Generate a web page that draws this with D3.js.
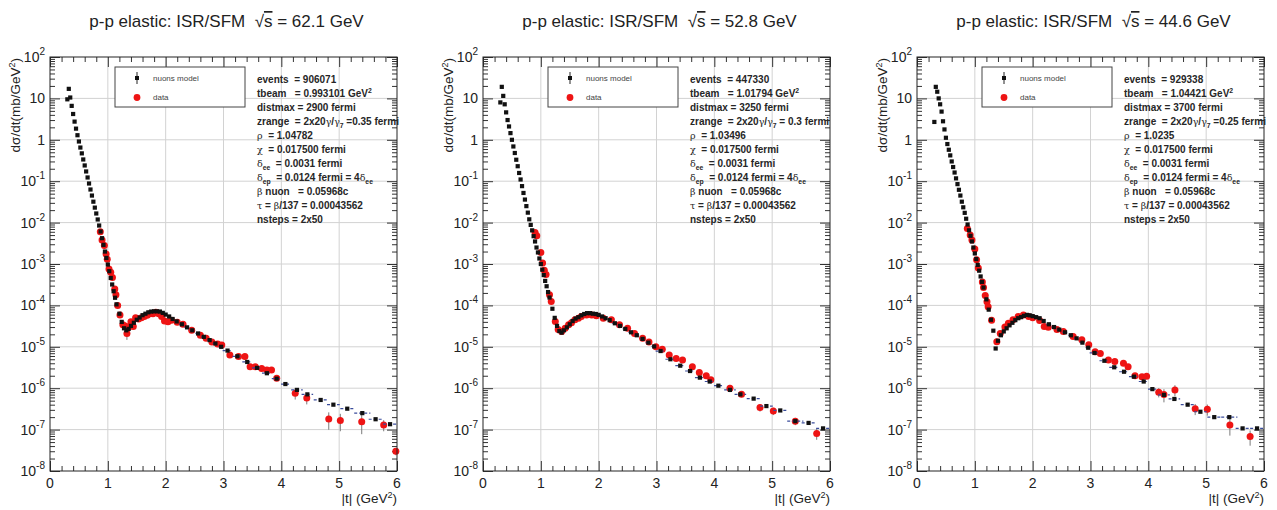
<!DOCTYPE html>
<html>
<head>
<meta charset="utf-8">
<script src="https://cdn.jsdelivr.net/npm/d3@7"></script>
<style>
  body { margin: 0; background: #fff; }
  svg { display: block; }
  text { font-family: "Liberation Sans", Arial, sans-serif; }
</style>
</head>
<body>
<svg id="chart"></svg>
<script>
// ---------- data ----------
// model bins (|t| centre, GeV^2) shared by the three energies
const tModel = [0.30,0.325,0.35,0.375,0.40,0.425,0.45,0.475,0.50,0.525,0.55,0.575,0.60,0.625,0.65,0.675,0.70,0.725,0.75,0.775,
  0.80,0.825,0.85,0.875,0.90,0.925,0.95,0.975,1.00,1.025,1.05,1.075,1.10,1.125,1.15,
  1.20,1.24,1.28,1.32,1.36,1.40,1.45,1.50,1.55,1.60,1.65,1.70,1.75,1.80,1.85,1.90,1.95,2.00,2.06,2.12,2.19,
  2.28,2.37,2.46,2.56,2.66,2.76,2.86,2.96,3.07,3.24,3.41,3.58,3.75,3.92,
  4.07,4.27,4.45,4.68,4.90,5.14,5.40,5.63,5.88];
// half bin width
const dtModel = [0.0125,0.0125,0.0125,0.0125,0.0125,0.0125,0.0125,0.0125,0.0125,0.0125,0.0125,0.0125,0.0125,0.0125,0.0125,0.0125,0.0125,0.0125,0.0125,0.0125,
  0.0125,0.0125,0.0125,0.0125,0.0125,0.0125,0.0125,0.0125,0.0125,0.0125,0.0125,0.0125,0.0125,0.0125,0.0125,
  0.02,0.02,0.02,0.02,0.02,0.02,0.02,0.02,0.02,0.02,0.02,0.02,0.02,0.02,0.02,0.02,0.02,0.02,0.02,0.02,0.02,
  0.045,0.045,0.045,0.045,0.045,0.045,0.045,0.045,0.085,0.085,0.085,0.085,0.085,0.085,
  0.075,0.1,0.1,0.12,0.11,0.12,0.14,0.12,0.12];

const model62 = [9.5,17,10.5,6.6,4.2,2.75,1.86,1.29,0.91,0.65,0.47,0.335,0.24,0.172,0.123,0.088,0.063,0.045,0.032,0.023,
  0.0166,0.0119,0.0085,0.0061,0.0042,0.0029,0.0020,0.0014,9.7e-4,6.7e-4,4.6e-4,3.2e-4,2.2e-4,1.53e-4,1.06e-4,
  6.3e-5,4.0e-5,2.8e-5,2.5e-5,2.7e-5,3.2e-5,3.8e-5,4.5e-5,5.1e-5,5.8e-5,6.3e-5,6.8e-5,7.1e-5,7.2e-5,7.2e-5,7.1e-5,6.6e-5,6.0e-5,5.4e-5,4.7e-5,4.1e-5,
  3.5e-5,2.95e-5,2.5e-5,2.1e-5,1.74e-5,1.45e-5,1.2e-5,1.0e-5,8.1e-6,5.9e-6,4.3e-6,3.1e-6,2.3e-6,1.7e-6,
  1.26e-6,9.1e-7,7.1e-7,5.2e-7,4.0e-7,3.2e-7,2.5e-7,1.78e-7,1.35e-7];
const model528 = [8,19,11.5,7.2,4.6,3.0,2.1,1.45,1.0,0.69,0.48,0.33,0.23,0.158,0.11,0.076,0.052,0.036,0.025,0.0174,
  0.012,0.0088,0.0065,0.0047,0.0035,0.0025,0.0019,0.00136,1.0e-3,7.3e-4,5.4e-4,3.9e-4,2.9e-4,2.1e-4,1.55e-4,
  8.3e-5,5.0e-5,3.2e-5,2.4e-5,2.2e-5,2.5e-5,2.95e-5,3.5e-5,4.2e-5,4.8e-5,5.2e-5,5.75e-5,6.2e-5,6.5e-5,6.5e-5,6.3e-5,6.2e-5,5.9e-5,5.4e-5,4.9e-5,4.4e-5,
  3.7e-5,3.2e-5,2.7e-5,2.24e-5,1.9e-5,1.55e-5,1.26e-5,1.02e-5,7.9e-6,5.0e-6,3.5e-6,2.6e-6,1.8e-6,1.45e-6,
  1.15e-6,9.1e-7,7.1e-7,5.6e-7,3.7e-7,2.9e-7,1.6e-7,1.45e-7,1.07e-7];
const model446 = [2.7,19,14.5,10,7.2,4.8,2.8,1.78,1.12,0.79,0.575,0.42,0.30,0.22,0.162,0.117,0.085,0.062,0.045,0.032,
  0.0234,0.0172,0.0124,0.009,0.0065,0.0048,0.0035,0.0025,0.0018,0.00132,9.5e-4,6.9e-4,5.0e-4,3.7e-4,2.7e-4,
  1.4e-4,7.9e-5,4.5e-5,2.45e-5,9.1e-6,1.4e-5,1.9e-5,2.35e-5,2.8e-5,3.3e-5,3.8e-5,4.4e-5,4.9e-5,5.2e-5,5.6e-5,5.9e-5,5.75e-5,5.5e-5,5.2e-5,4.9e-5,4.2e-5,
  3.5e-5,3.0e-5,2.6e-5,2.24e-5,1.9e-5,1.6e-5,1.26e-5,9.5e-6,7.1e-6,4.6e-6,3.2e-6,2.5e-6,1.9e-6,1.45e-6,
  9.5e-7,6.9e-7,5.5e-7,4.0e-7,2.7e-7,2.0e-7,2.0e-7,1.07e-7,1.07e-7];

// ISR data, 62.1 GeV
const t62 = [0.87,0.90,0.94,0.97,0.99,1.02,1.05,1.08,1.12,1.14,1.17,1.21,1.26,1.30,1.33,1.36,1.40,1.44,1.48,1.53,
  1.58,1.63,1.68,1.73,1.78,1.83,1.88,1.93,1.98,2.04,2.10,2.20,2.30,2.45,2.60,2.70,2.80,2.90,2.97,3.11,
  3.26,3.37,3.46,3.55,3.66,3.75,3.83,3.92,4.24,4.44,4.82,5.02,5.39,5.77,5.98];
const v62 = [6.0e-3,3.8e-3,2.8e-3,1.74e-3,1.3e-3,7.6e-4,6.3e-4,4.7e-4,2.5e-4,1.8e-4,1.0e-4,5.9e-5,3.4e-5,3.2e-5,2.1e-5,3.0e-5,4.0e-5,3.1e-5,5.0e-5,4.7e-5,
  5.0e-5,5.4e-5,5.8e-5,6.3e-5,6.3e-5,6.8e-5,6.3e-5,5.4e-5,4.2e-5,4.0e-5,4.4e-5,3.9e-5,3.5e-5,2.5e-5,1.9e-5,1.6e-5,1.3e-5,1.17e-5,1.1e-5,6.3e-6,
  5.8e-6,5.8e-6,3.3e-6,3.3e-6,3.0e-6,2.75e-6,2.75e-6,1.74e-6,7.6e-7,5.8e-7,1.8e-7,1.66e-7,1.55e-7,1.3e-7,3.0e-8];
const rel62 = [0.04,0.04,0.04,0.04,0.04,0.04,0.04,0.04,0.04,0.04,0.04,0.08,0.15,0.15,0.3,0.15,0.12,0.12,0.1,0.08,
  0.08,0.08,0.08,0.08,0.08,0.08,0.08,0.08,0.08,0.08,0.08,0.08,0.08,0.08,0.08,0.08,0.08,0.08,0.08,0.08,
  0.08,0.08,0.08,0.08,0.08,0.08,0.08,0.08,0.3,0.3,0.45,0.45,0.5,0.3,0.2];

// ISR data, 52.8 GeV
const t528 = [0.90,0.93,1.00,1.03,1.06,1.09,1.15,1.18,1.25,1.30,1.36,1.42,1.48,1.53,1.59,1.65,1.70,1.79,1.88,1.96,
  2.08,2.22,2.36,2.50,2.62,2.76,2.87,2.99,3.10,3.22,3.34,3.45,3.62,3.74,3.86,3.94,4.27,4.47,4.79,5.02,5.40,5.77];
const v528 = [5.8e-3,4.8e-3,1.9e-3,1.05e-3,7.1e-4,5.6e-4,1.8e-4,1.25e-4,4.1e-5,2.6e-5,2.35e-5,2.8e-5,3.4e-5,3.8e-5,4.5e-5,4.9e-5,5.4e-5,5.9e-5,5.9e-5,5.6e-5,
  4.9e-5,4.5e-5,3.4e-5,2.8e-5,2.1e-5,1.6e-5,1.3e-5,1.0e-5,8.7e-6,6.3e-6,5.2e-6,4.8e-6,3.3e-6,2.4e-6,2.0e-6,1.6e-6,1.0e-6,7.1e-7,3.4e-7,2.8e-7,1.6e-7,8.1e-8];
const rel528 = [0.04,0.04,0.04,0.04,0.04,0.04,0.04,0.04,0.08,0.08,0.08,0.08,0.08,0.08,0.08,0.08,0.08,0.08,0.08,0.08,
  0.08,0.08,0.08,0.08,0.08,0.08,0.08,0.08,0.08,0.08,0.08,0.08,0.08,0.08,0.08,0.08,0.2,0.15,0.2,0.2,0.2,0.3];

// ISR data, 44.6 GeV
const t446 = [0.87,0.92,0.95,1.00,1.03,1.06,1.13,1.15,1.18,1.21,1.23,1.29,1.38,1.44,1.52,1.58,1.66,1.75,1.84,1.93,
  2.00,2.12,2.20,2.27,2.42,2.53,2.70,2.85,2.97,3.08,3.17,3.31,3.42,3.57,3.65,3.77,3.89,3.97,4.18,4.27,4.46,4.81,5.02,5.41,5.76];
const v446 = [7.2e-3,5.0e-3,3.8e-3,2.3e-3,1.26e-3,8.0e-4,3.7e-4,2.7e-4,1.74e-4,1.23e-4,9.3e-5,4.4e-5,1.32e-5,2.1e-5,3.0e-5,3.7e-5,4.5e-5,5.4e-5,5.9e-5,5.4e-5,
  5.0e-5,4.3e-5,3.1e-5,2.95e-5,2.6e-5,2.35e-5,1.78e-5,1.48e-5,1.12e-5,7.6e-6,6.9e-6,4.8e-6,4.4e-6,4.0e-6,3.3e-6,2.0e-6,1.9e-6,1.95e-6,8.0e-7,7.0e-7,9.1e-7,3.2e-7,3.1e-7,1.3e-7,6.8e-8];
const rel446 = [0.05,0.05,0.05,0.05,0.05,0.05,0.05,0.05,0.05,0.05,0.05,0.05,0.1,0.1,0.1,0.1,0.1,0.1,0.1,0.1,
  0.1,0.08,0.08,0.08,0.08,0.08,0.08,0.08,0.08,0.1,0.1,0.1,0.1,0.1,0.1,0.1,0.1,0.1,0.25,0.35,0.3,0.3,0.3,0.45,0.4];

// per panel settings text
const energies = ["62.1", "52.8", "44.6"];
const events = ["906071", "447330", "929338"];
const tbeam = ["0.993101", "1.01794", "1.04421"];
const distmax = ["2900", "3250", "3700"];
const zrange = ["=0.35", "= 0.3", "=0.25"];
const rho = ["1.04782", "1.03496", "1.0235"];

const xTickLabels = [0, 1, 2, 3, 4, 5, 6];
const decadeExps = [2, 1, 0, -1, -2, -3, -4, -5, -6, -7, -8];

// ---------- layout ----------
const width = 1277, height = 510;
const panelLefts = [50, 483, 917];
const plotW = 347, plotTop = 57, plotBottom = 471;

const svg = d3.select("#chart").attr("width", width).attr("height", height);

const panels = [
  {model: model62, t: t62, v: v62, rel: rel62},
  {model: model528, t: t528, v: v528, rel: rel528},
  {model: model446, t: t446, v: v446, rel: rel446}
];

// writes a line of mixed text: [string, kind] kind = "" | "g" greek | "sub" | "sup"
function richText(sel, segs, size) {
  let shift = 0;
  segs.forEach(([s, k]) => {
    const ts = sel.append("tspan").text(s);
    let target = 0;
    if (k === "sub") target = Math.round(size * 0.3);
    if (k === "sup") target = -Math.round(size * 0.4);
    ts.attr("dy", target - shift);
    shift = target;
    if (k === "sub" || k === "sup") ts.attr("font-size", size * 0.68);
    if (k === "g") ts.attr("font-family", "'DejaVu Serif', serif").attr("font-weight", "normal").attr("font-size", size * 0.95);
  });
}

panels.forEach((p, i) => {
  const left = panelLefts[i];
  const g = svg.append("g");

  const x = d3.scaleLinear().domain([0, 6]).range([left, left + plotW]);
  const y = d3.scaleLog().domain([1e-8, 1e2]).range([plotBottom, plotTop]);

  // title
  const title = g.append("text")
    .attr("x", left + plotW / 2 + 3).attr("y", 27)
    .attr("text-anchor", "middle")
    .attr("font-size", 17).attr("fill", "#222")
    .style("white-space", "pre");
  title.append("tspan").text("p-p elastic: ISR/SFM  √");
  title.append("tspan").text("s").style("text-decoration", "overline");
  title.append("tspan").text(" = " + energies[i] + " GeV");

  // grid
  g.append("g").selectAll("line").data([1, 2, 3, 4, 5]).join("line")
    .attr("x1", d => x(d)).attr("x2", d => x(d))
    .attr("y1", plotTop).attr("y2", plotBottom)
    .attr("stroke", "#d2d2d2").attr("stroke-width", 1);
  g.append("g").selectAll("line").data(decadeExps.slice(1, -1)).join("line")
    .attr("x1", left).attr("x2", left + plotW)
    .attr("y1", d => y(Math.pow(10, d))).attr("y2", d => y(Math.pow(10, d)))
    .attr("stroke", "#d2d2d2").attr("stroke-width", 1);

  // ticks (ROOT style, inside the frame, on all four sides)
  const minorX = d3.range(0, 30).map(k => k * 0.2).filter(d => Math.abs(d - Math.round(d)) > 0.01);
  const minorY = [];
  decadeExps.slice(1).forEach(e => { for (let k = 2; k <= 9; k++) minorY.push(k * Math.pow(10, e)); });
  const majorY = decadeExps.map(e => Math.pow(10, e));

  const tickAxes = [
    [d3.axisBottom(x).tickValues(minorX).tickSize(-5), `translate(0,${plotBottom})`],
    [d3.axisBottom(x).tickValues(xTickLabels).tickSize(-10), `translate(0,${plotBottom})`],
    [d3.axisTop(x).tickValues(minorX).tickSize(-5), `translate(0,${plotTop})`],
    [d3.axisTop(x).tickValues(xTickLabels).tickSize(-10), `translate(0,${plotTop})`],
    [d3.axisLeft(y).tickValues(minorY).tickSize(-5), `translate(${left},0)`],
    [d3.axisLeft(y).tickValues(majorY).tickSize(-10), `translate(${left},0)`],
    [d3.axisRight(y).tickValues(minorY).tickSize(-5), `translate(${left + plotW},0)`],
    [d3.axisRight(y).tickValues(majorY).tickSize(-10), `translate(${left + plotW},0)`]
  ];
  tickAxes.forEach(([ax, tr]) => {
    const a = g.append("g").attr("transform", tr).call(ax.tickFormat("").tickSizeOuter(0));
    a.select(".domain").remove();
    a.selectAll("line").attr("stroke", "#333");
  });

  // x tick labels
  g.append("g").selectAll("text").data(xTickLabels).join("text")
    .attr("x", d => x(d)).attr("y", 488)
    .attr("text-anchor", "middle").attr("font-size", 14).attr("fill", "#222")
    .text(d => d);

  // y tick labels 10^n
  decadeExps.forEach(e => {
    const lab = g.append("text")
      .attr("x", left - 5).attr("y", y(Math.pow(10, e)) + 5)
      .attr("text-anchor", "end").attr("font-size", 14).attr("fill", "#222");
    if (e === 0) lab.text("1");
    else if (e === 1) lab.text("10");
    else {
      lab.append("tspan").text("10");
      lab.append("tspan").text(e).attr("font-size", 10).attr("dy", -7);
    }
  });

  // axis titles
  const yl = g.append("text")
    .attr("transform", `translate(${left - 30},${plotTop + 1}) rotate(-90)`)
    .attr("text-anchor", "end").attr("font-size", 13.5).attr("fill", "#222");
  yl.append("tspan").text("dσ/dt(mb/GeV");
  yl.append("tspan").text("2").attr("font-size", 9).attr("dy", -5);
  yl.append("tspan").text(")").attr("dy", 5);

  const xl = g.append("text")
    .attr("x", left + plotW).attr("y", 503)
    .attr("text-anchor", "end").attr("font-size", 13.5).attr("fill", "#222");
  xl.append("tspan").text("|t| (GeV");
  xl.append("tspan").text("2").attr("font-size", 9).attr("dy", -5);
  xl.append("tspan").text(")").attr("dy", 5);

  // data error bars + points
  const data = p.t.map((t, k) => ({t: t, v: p.v[k], e: p.v[k] * p.rel[k]}));
  g.append("g").selectAll("line").data(data).join("line")
    .attr("x1", d => x(d.t)).attr("x2", d => x(d.t))
    .attr("y1", d => y(d.v + d.e)).attr("y2", d => y(Math.max(d.v - d.e, 1e-8)))
    .attr("stroke", "#7a7a7a").attr("stroke-width", 1);
  g.append("g").selectAll("circle").data(data).join("circle")
    .attr("cx", d => x(d.t)).attr("cy", d => y(d.v))
    .attr("r", 3.5).attr("fill", "#ee1414");

  // model: x bins + square markers
  const model = tModel.map((t, k) => ({t: t, dt: dtModel[k], v: p.model[k]}));
  g.append("g").selectAll("line").data(model.filter(d => d.dt > 0.04)).join("line")
    .attr("x1", d => x(d.t - d.dt)).attr("x2", d => x(d.t + d.dt))
    .attr("y1", d => y(d.v)).attr("y2", d => y(d.v))
    .attr("stroke", "#3a4c9c").attr("stroke-width", 1.2).attr("stroke-dasharray", "3,2");
  g.append("g").selectAll("rect").data(model).join("rect")
    .attr("x", d => x(d.t) - 2.1).attr("y", d => y(d.v) - 2.1)
    .attr("width", 4.2).attr("height", 4.2).attr("fill", "#111");

  // frame
  g.append("rect")
    .attr("x", left).attr("y", plotTop).attr("width", plotW).attr("height", plotBottom - plotTop)
    .attr("fill", "none").attr("stroke", "#222").attr("stroke-width", 1);

  // legend
  const lg = g.append("g");
  lg.append("rect")
    .attr("x", left + 65).attr("y", 67).attr("width", 130).attr("height", 40)
    .attr("fill", "#fff").attr("stroke", "#444").attr("stroke-width", 1);
  lg.append("line")
    .attr("x1", left + 87).attr("x2", left + 87).attr("y1", 72).attr("y2", 84)
    .attr("stroke", "#222");
  lg.append("rect")
    .attr("x", left + 85).attr("y", 76).attr("width", 4).attr("height", 4).attr("fill", "#111");
  lg.append("circle")
    .attr("cx", left + 87).attr("cy", 97.5).attr("r", 3.4).attr("fill", "#ee1414");
  lg.append("text").attr("x", left + 103).attr("y", 81)
    .attr("font-size", 8).attr("fill", "#444").text("nuons model");
  lg.append("text").attr("x", left + 103).attr("y", 100)
    .attr("font-size", 8).attr("fill", "#444").text("data");

  // stats block
  const lines = [
    [["events  = " + events[i], ""]],
    [["tbeam   = " + tbeam[i] + " GeV", ""], ["2", "sup"]],
    [["distmax = " + distmax[i] + " fermi", ""]],
    [["zrange  = 2x20", ""], ["γ", "g"], ["/", ""], ["γ", "g"], ["7", "sub"], [" " + zrange[i] + " fermi", ""]],
    [["ρ", "g"], ["  = " + rho[i], ""]],
    [["χ", "g"], ["  = 0.017500 fermi", ""]],
    [["δ", "g"], ["ee", "sub"], ["  = 0.0031 fermi", ""]],
    [["δ", "g"], ["ep", "sub"], ["  = 0.0124 fermi = 4", ""], ["δ", "g"], ["ee", "sub"]],
    [["β", "g"], [" nuon   = 0.05968c", ""]],
    [["τ", "g"], [" = ", ""], ["β", "g"], ["/137 = 0.00043562", ""]],
    [["nsteps = 2x50", ""]]
  ];
  lines.forEach((segs, k) => {
    const tx = g.append("text")
      .attr("x", left + 207).attr("y", 82.6 + k * 14.07)
      .attr("font-size", 10).attr("font-weight", "bold").attr("fill", "#262626")
      .style("white-space", "pre");
    richText(tx, segs, 10);
  });
});
</script>
</body>
</html>
